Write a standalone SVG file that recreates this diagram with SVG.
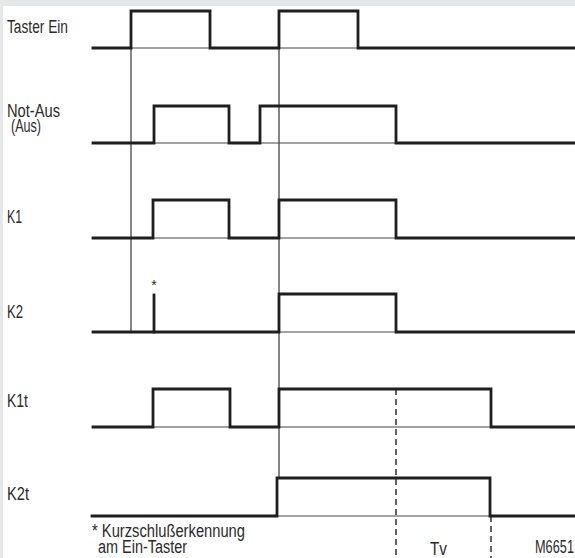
<svg xmlns="http://www.w3.org/2000/svg" width="575" height="558" viewBox="0 0 575 558">
<style>
.lbl{font-family:"Liberation Sans",Arial,sans-serif;font-size:18px;fill:#2b2b2b}
.sig{fill:none;stroke:#1e1e1e;stroke-width:2.8;stroke-linejoin:miter;stroke-linecap:square}
.base{fill:none;stroke:#444;stroke-width:1.1}
.guide{fill:none;stroke:#222;stroke-width:1.1}
.dash{fill:none;stroke:#222;stroke-width:1.4;stroke-dasharray:6 4}
</style>
<rect x="0" y="0" width="575" height="558" fill="#e6e7e9"/>
<rect x="3" y="6" width="572" height="552" fill="#ffffff"/>
<g id="connectors">
<line class="guide" x1="131" y1="11" x2="131" y2="332"/>
<line class="guide" x1="279" y1="11" x2="279" y2="478"/>
<line class="dash" x1="396" y1="389" x2="396" y2="558"/>
<line class="dash" x1="491" y1="516" x2="491" y2="558"/>
</g>
<g id="taster-ein">
<text class="lbl" x="7" y="33" textLength="61" lengthAdjust="spacingAndGlyphs">Taster Ein</text>
<line class="base" x1="92" y1="48" x2="575" y2="48"/>
<path class="sig" d="M93,48 H131 V11 H210 V48 H279 V11 H358 V48 H575"/>
</g>
<g id="not-aus">
<text class="lbl" x="7" y="116.5" textLength="53" lengthAdjust="spacingAndGlyphs">Not-Aus</text>
<text class="lbl" x="11" y="132" textLength="30" lengthAdjust="spacingAndGlyphs">(Aus)</text>
<line class="base" x1="92" y1="143" x2="575" y2="143"/>
<path class="sig" d="M93,143 H154 V106 H229 V143 H260 V106 H396 V143 H575"/>
</g>
<g id="k1">
<text class="lbl" x="7" y="223" textLength="15" lengthAdjust="spacingAndGlyphs">K1</text>
<line class="base" x1="92" y1="238" x2="575" y2="238"/>
<path class="sig" d="M93,238 H153 V200 H229 V238 H279 V200 H396 V238 H575"/>
</g>
<g id="k2">
<text class="lbl" x="7" y="318" textLength="16" lengthAdjust="spacingAndGlyphs">K2</text>
<line class="base" x1="92" y1="332" x2="575" y2="332"/>
<path class="sig" d="M93,332 H279 V294 H396 V332 H575"/>
<path class="sig" d="M154,332 V295"/>
<text class="lbl" x="154" y="290" text-anchor="middle" style="font-size:14px">*</text>
</g>
<g id="k1t">
<text class="lbl" x="7" y="407" textLength="21" lengthAdjust="spacingAndGlyphs">K1t</text>
<line class="base" x1="92" y1="427" x2="575" y2="427"/>
<path class="sig" d="M93,427 H153 V389 H230 V427 H279 V389 H491 V427 H575"/>
</g>
<g id="k2t">
<text class="lbl" x="7" y="500" textLength="22" lengthAdjust="spacingAndGlyphs">K2t</text>
<line class="base" x1="92" y1="516" x2="575" y2="516"/>
<path class="sig" d="M92,516 H277 V478 H490 V516 H575"/>
</g>
<g id="notes">
<text class="lbl" x="92" y="537" textLength="153" lengthAdjust="spacingAndGlyphs">* Kurzschlußerkennung</text>
<text class="lbl" x="98" y="553" textLength="89" lengthAdjust="spacingAndGlyphs">am Ein-Taster</text>
<text class="lbl" x="430" y="555" textLength="17" lengthAdjust="spacingAndGlyphs">Tv</text>
<text class="lbl" x="535" y="553" textLength="39" lengthAdjust="spacingAndGlyphs">M6651</text>
</g>
</svg>
